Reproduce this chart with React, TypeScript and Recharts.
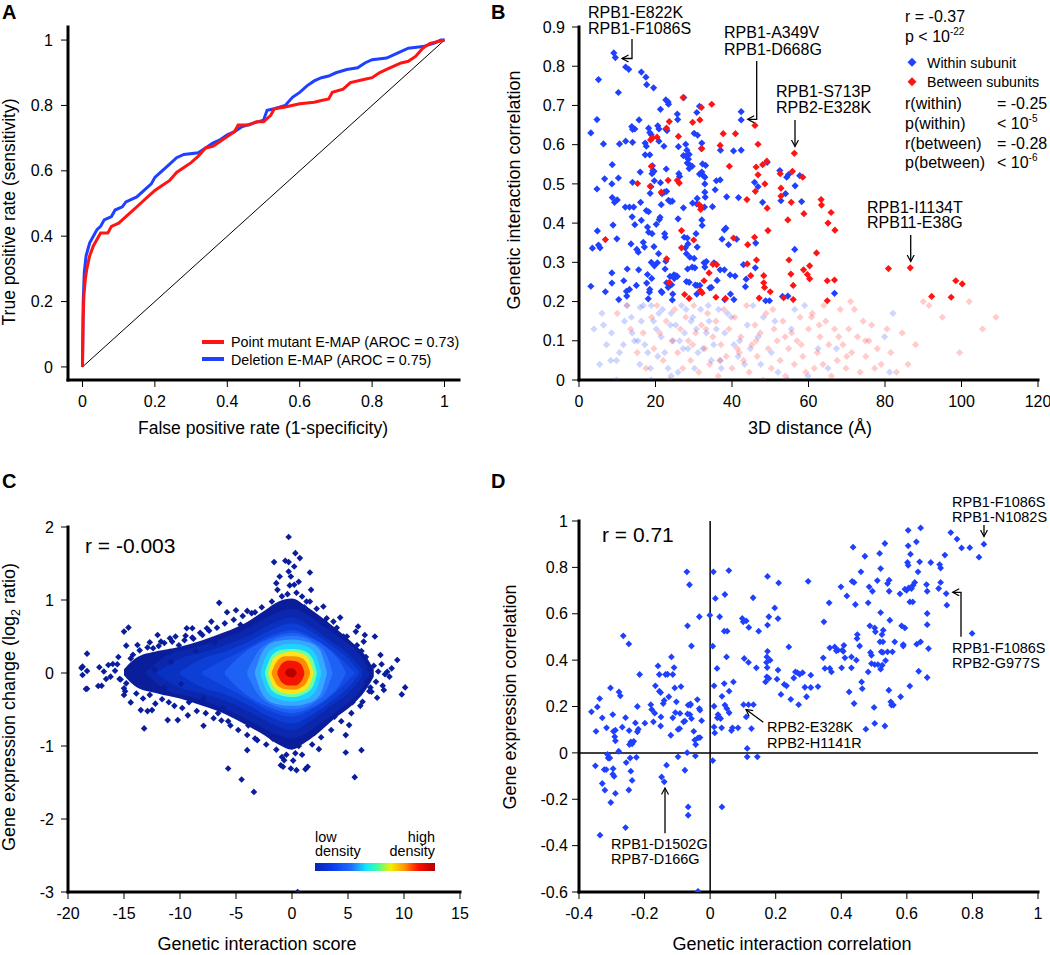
import React from "react";
import { ComposedChart, Line, Scatter, Area, XAxis, YAxis, ReferenceLine } from "recharts";

const FONT = '"Liberation Sans", Arial, Helvetica, sans-serif';
const BLUE = "#1f40ff";
const RED = "#ff1414";
const NAVY = "#0a1e9c";

// ---- panel A: ROC curves (fpr, tpr)
const pointMutantRoc = [
  [0, 0], [0.002, 0.15], [0.004, 0.22], [0.008, 0.27], [0.012, 0.3], [0.02, 0.34], [0.03, 0.37], [0.04, 0.39],
  [0.05, 0.41], [0.07, 0.41], [0.08, 0.43], [0.1, 0.44], [0.12, 0.46], [0.14, 0.48], [0.16, 0.5], [0.18, 0.52],
  [0.2, 0.54], [0.22, 0.555], [0.24, 0.57], [0.26, 0.595], [0.28, 0.61], [0.3, 0.625], [0.32, 0.645], [0.34, 0.67],
  [0.36, 0.675], [0.38, 0.69], [0.4, 0.705], [0.42, 0.72], [0.43, 0.74], [0.46, 0.74], [0.48, 0.75], [0.5, 0.75],
  [0.52, 0.77], [0.53, 0.79], [0.56, 0.795], [0.6, 0.805], [0.64, 0.81], [0.66, 0.815], [0.68, 0.82], [0.69, 0.84],
  [0.72, 0.85], [0.74, 0.87], [0.78, 0.88], [0.8, 0.885], [0.82, 0.9], [0.84, 0.91], [0.86, 0.92], [0.88, 0.93],
  [0.9, 0.935], [0.92, 0.95], [0.94, 0.975], [0.96, 0.99], [0.98, 0.995], [1, 1],
];
const deletionRoc = [
  [0, 0], [0.002, 0.2], [0.005, 0.29], [0.01, 0.34], [0.015, 0.36], [0.02, 0.38], [0.03, 0.4], [0.04, 0.42],
  [0.05, 0.43], [0.06, 0.45], [0.08, 0.46], [0.09, 0.48], [0.11, 0.49], [0.12, 0.505], [0.15, 0.52], [0.17, 0.54],
  [0.19, 0.56], [0.2, 0.58], [0.22, 0.6], [0.24, 0.62], [0.26, 0.64], [0.28, 0.65], [0.32, 0.655], [0.34, 0.67],
  [0.36, 0.685], [0.38, 0.695], [0.4, 0.71], [0.42, 0.72], [0.44, 0.735], [0.47, 0.745], [0.5, 0.755], [0.51, 0.785],
  [0.53, 0.79], [0.56, 0.8], [0.58, 0.825], [0.6, 0.84], [0.62, 0.86], [0.64, 0.875], [0.66, 0.885], [0.68, 0.89],
  [0.7, 0.9], [0.73, 0.91], [0.76, 0.915], [0.78, 0.93], [0.8, 0.94], [0.84, 0.945], [0.87, 0.96], [0.9, 0.975],
  [0.94, 0.98], [0.97, 0.99], [0.99, 1], [1, 1],
];
const diagonal = [[0, 0], [1, 1]];
const rocTicks = [0, 0.2, 0.4, 0.6, 0.8, 1];

// ---- panel B: 3D distance vs genetic interaction correlation
const withinSubunit = [
  [9.1, 0.834], [9.5, 0.822], [12.2, 0.798], [13.0, 0.792], [5.1, 0.766], [16.3, 0.785], [17.5, 0.772], [17.7, 0.753],
  [19.5, 0.745], [10.3, 0.733], [27.4, 0.72], [22.7, 0.714], [23.3, 0.709], [23.4, 0.703], [31.5, 0.698], [21.3, 0.69],
  [30.8, 0.682], [42.4, 0.684], [42.4, 0.663], [4.7, 0.664], [15.7, 0.663], [25.7, 0.678], [25.8, 0.664], [3.1, 0.63],
  [6.4, 0.602], [10.6, 0.602], [13.8, 0.646], [14.0, 0.639], [14.6, 0.64], [14.0, 0.606], [12.2, 0.609], [18.2, 0.642],
  [18.5, 0.631], [18.9, 0.625], [17.3, 0.604], [17.6, 0.596], [17.3, 0.574], [18.5, 0.574], [20.6, 0.648], [20.9, 0.64],
  [22.7, 0.64], [23.0, 0.636], [20.9, 0.609], [22.2, 0.596], [26.0, 0.595], [27.9, 0.601], [28.2, 0.586], [27.9, 0.571],
  [27.3, 0.572], [28.8, 0.575], [28.6, 0.563], [28.3, 0.553], [29.1, 0.547], [28.8, 0.539], [29.6, 0.545], [30.1, 0.629],
  [31.0, 0.624], [32.1, 0.604], [32.0, 0.59], [32.3, 0.551], [33.1, 0.547], [31.5, 0.525], [32.1, 0.53], [32.5, 0.521],
  [32.9, 0.517], [32.9, 0.5], [32.9, 0.479], [33.0, 0.466], [32.8, 0.441], [30.8, 0.449], [29.7, 0.451], [30.9, 0.463],
  [32.1, 0.408], [32.2, 0.394], [37.0, 0.586], [40.4, 0.584], [42.4, 0.586], [35.9, 0.508], [36.9, 0.51], [35.6, 0.485],
  [38.6, 0.467], [41.7, 0.465], [34.9, 0.442], [49.2, 0.555], [45.9, 0.504], [46.8, 0.493], [48.0, 0.453], [52.5, 0.534],
  [54.3, 0.517], [54.8, 0.524], [52.8, 0.457], [54.0, 0.475], [57.7, 0.521], [58.2, 0.455], [56.5, 0.495], [56.4, 0.333],
  [66.8, 0.221], [46.2, 0.349], [37.4, 0.359], [38.0, 0.383], [38.4, 0.387], [41.2, 0.359], [43.0, 0.294], [39.1, 0.345],
  [35.3, 0.299], [36.9, 0.281], [38.0, 0.281], [39.5, 0.268], [40.8, 0.265], [36.1, 0.254], [39.6, 0.219], [40.5, 0.205],
  [38.1, 0.205], [43.5, 0.238], [43.7, 0.257], [46.1, 0.286], [48.8, 0.202], [49.8, 0.202], [53.2, 0.213], [54.6, 0.214],
  [3.5, 0.336], [5.1, 0.344], [5.5, 0.337], [4.8, 0.38], [4.7, 0.487], [6.7, 0.513], [8.6, 0.5], [10.3, 0.515],
  [8.7, 0.549], [8.7, 0.465], [9.3, 0.453], [10.0, 0.459], [8.9, 0.395], [9.9, 0.36], [3.1, 0.239], [6.9, 0.225],
  [8.6, 0.247], [8.6, 0.273], [10.4, 0.205], [11.7, 0.253], [12.6, 0.283], [12.4, 0.226], [12.5, 0.214], [13.2, 0.231],
  [12.1, 0.441], [13.2, 0.441], [13.9, 0.416], [14.6, 0.396], [14.3, 0.441], [13.6, 0.347], [15.1, 0.333], [15.5, 0.326],
  [15.6, 0.281], [15.0, 0.241], [14.0, 0.504], [16.0, 0.53], [16.1, 0.453], [16.3, 0.407], [16.8, 0.351], [17.1, 0.339],
  [17.6, 0.432], [18.2, 0.429], [17.9, 0.39], [18.2, 0.377], [18.6, 0.476], [18.8, 0.493], [19.1, 0.526], [19.3, 0.534],
  [19.6, 0.532], [19.7, 0.508], [19.2, 0.546], [17.9, 0.269], [17.7, 0.247], [19.0, 0.259], [19.1, 0.373], [19.6, 0.34],
  [18.9, 0.3], [19.7, 0.291], [20.5, 0.299], [20.8, 0.322], [20.2, 0.397], [21.0, 0.409], [21.2, 0.415], [21.3, 0.503],
  [21.5, 0.447], [21.7, 0.475], [22.3, 0.479], [21.5, 0.226], [21.7, 0.223], [18.5, 0.231], [18.4, 0.224], [18.1, 0.207],
  [22.4, 0.373], [22.5, 0.364], [22.7, 0.303], [22.5, 0.283], [22.9, 0.248], [23.3, 0.236], [22.8, 0.538], [22.9, 0.481],
  [23.4, 0.458], [23.9, 0.455], [24.4, 0.456], [23.8, 0.264], [24.2, 0.243], [24.5, 0.219], [24.4, 0.204], [24.8, 0.268],
  [24.9, 0.259], [25.3, 0.266], [25.7, 0.264], [25.9, 0.411], [26.1, 0.526], [26.3, 0.519], [27.3, 0.439], [27.5, 0.364],
  [27.8, 0.337], [28.1, 0.322], [28.3, 0.362], [28.5, 0.347], [28.4, 0.283], [28.1, 0.251], [28.8, 0.249], [29.0, 0.313],
  [29.6, 0.288], [30.1, 0.31], [30.4, 0.242], [30.9, 0.241], [30.3, 0.286], [30.9, 0.339], [30.6, 0.373], [30.8, 0.219],
  [31.6, 0.241], [32.7, 0.299], [32.9, 0.288], [33.3, 0.302], [34.2, 0.235], [34.6, 0.236],
];
const betweenSubunits = [
  [27.2, 0.72], [32.0, 0.695], [34.7, 0.703], [23.6, 0.659], [29.7, 0.657], [31.6, 0.663], [26.0, 0.621], [22.9, 0.642],
  [18.7, 0.612], [19.2, 0.617], [20.4, 0.619], [32.1, 0.59], [37.7, 0.628], [40.9, 0.628], [36.9, 0.598], [46.0, 0.649],
  [46.8, 0.601], [39.3, 0.545], [46.3, 0.543], [49.1, 0.558], [48.0, 0.549], [46.8, 0.523], [48.6, 0.5], [46.1, 0.481],
  [43.9, 0.46], [49.2, 0.438], [18.9, 0.545], [15.3, 0.501], [18.6, 0.494], [21.5, 0.479], [23.3, 0.509], [25.7, 0.509],
  [26.2, 0.502], [31.4, 0.447], [31.9, 0.442], [31.8, 0.435], [40.4, 0.362], [26.8, 0.381], [26.8, 0.337], [30.0, 0.357],
  [22.9, 0.309], [45.9, 0.364], [44.1, 0.345], [46.4, 0.306], [49.4, 0.381], [44.9, 0.266], [48.3, 0.266], [48.3, 0.248],
  [48.5, 0.236], [50.0, 0.225], [47.1, 0.209], [44.0, 0.296], [35.0, 0.295], [36.0, 0.294], [34.0, 0.273], [32.7, 0.253],
  [31.7, 0.228], [32.2, 0.222], [27.6, 0.218], [28.8, 0.208], [23.6, 0.249], [35.8, 0.211], [38.3, 0.208], [52.6, 0.526],
  [55.8, 0.532], [58.5, 0.517], [52.8, 0.489], [52.8, 0.469], [55.5, 0.453], [58.8, 0.424], [54.6, 0.408], [56.3, 0.578],
  [63.3, 0.46], [63.4, 0.446], [65.9, 0.427], [65.1, 0.4], [66.9, 0.382], [62.1, 0.324], [54.9, 0.306], [55.4, 0.27],
  [56.0, 0.241], [56.0, 0.205], [53.5, 0.21], [58.7, 0.281], [59.7, 0.269], [60.3, 0.291], [60.3, 0.258], [64.9, 0.253],
  [66.8, 0.255], [64.9, 0.202], [80.9, 0.284], [86.6, 0.286], [92.2, 0.213], [97.3, 0.211], [98.5, 0.253], [100.2, 0.245],
  [6.9, 0.358],
];
const withinFaded = [
  [3.9, 0.13], [5.4, 0.04], [6.0, 0.17], [6.4, 0.14], [8.3, 0.05], [8.5, 0.12], [9.8, 0.05], [10.6, 0.07], [11.6, 0.09],
  [11.9, 0.15], [12.5, 0.19], [13.7, 0.16], [13.9, 0.12], [14.5, 0.1], [15.4, 0.1], [16.3, 0.15], [16.8, 0.19], [17.2, 0.09],
  [18.0, 0.07], [18.7, 0.03], [18.9, 0.19], [19.5, 0.15], [20.2, 0.13], [20.6, 0.06], [21.5, 0.11], [21.8, 0.18], [22.4, 0.07],
  [23.3, 0.03], [24.1, 0.17], [24.6, 0.1], [25.3, 0.14], [25.9, 0.02], [26.8, 0.19], [27.2, 0.08], [27.6, 0.12], [28.5, 0.08],
  [29.3, 0.15], [29.8, 0.16], [30.7, 0.13], [31.1, 0.07], [31.8, 0.18], [32.4, 0.08], [33.3, 0.12], [34.0, 0.15], [34.6, 0.05],
  [35.9, 0.13], [36.5, 0.18], [37.2, 0.03], [38.1, 0.12], [39.8, 0.16], [40.5, 0.09], [41.6, 0.06], [43.3, 0.04], [44.0, 0.14],
  [45.5, 0.19], [46.8, 0.11], [48.2, 0.16], [50.3, 0.07], [52.0, 0.02], [54.6, 0.0], [55.5, 0.13], [56.4, 0.18], [59.0, 0.19],
  [59.9, 0.01], [62.5, 0.08], [65.1, 0.03], [67.3, 0.08], [79.9, 0.11], [81.2, 0.02], [82.1, 0.17], [9.8, 0.0], [18.9, 0.0],
  [24.1, 0.01], [37.0, 0.05], [42.0, 0.1], [7.2, 0.09], [15.9, 0.04], [20.9, 0.17], [23.9, 0.14], [26.3, 0.1], [30.2, 0.03],
  [33.8, 0.19], [35.2, 0.09], [38.8, 0.17], [44.8, 0.08], [47.5, 0.04], [51.2, 0.15], [16.0, 0.185], [28.0, 0.18],
];
const betweenFaded = [
  [10.0, 0.17], [12.6, 0.19], [13.5, 0.13], [15.2, 0.07], [16.8, 0.12], [17.5, 0.03], [19.0, 0.16], [19.6, 0.08], [20.4, 0.19],
  [21.1, 0.12], [22.0, 0.05], [22.8, 0.15], [23.6, 0.0], [24.3, 0.1], [25.0, 0.18], [25.8, 0.07], [26.5, 0.13], [27.1, 0.03],
  [27.9, 0.16], [28.6, 0.1], [29.2, 0.05], [30.0, 0.19], [30.5, 0.12], [31.3, 0.02], [32.0, 0.14], [32.9, 0.08], [33.6, 0.17],
  [34.2, 0.04], [35.0, 0.11], [35.8, 0.15], [36.4, 0.01], [37.1, 0.09], [37.9, 0.18], [38.5, 0.06], [39.2, 0.13], [40.0, 0.03],
  [40.7, 0.16], [41.4, 0.08], [42.3, 0.11], [43.0, 0.05], [43.8, 0.19], [44.5, 0.02], [45.2, 0.09], [46.0, 0.14], [46.6, 0.06],
  [47.4, 0.12], [48.1, 0.0], [48.9, 0.17], [49.5, 0.08], [50.3, 0.03], [51.0, 0.13], [51.8, 0.1], [52.6, 0.05], [53.3, 0.15],
  [54.0, 0.01], [54.8, 0.08], [55.6, 0.12], [56.3, 0.04], [57.0, 0.1], [57.8, 0.16], [58.5, 0.06], [59.3, 0.02], [60.0, 0.13],
  [60.8, 0.16], [61.5, 0.03], [62.3, 0.07], [63.0, 0.11], [63.8, 0.04], [64.5, 0.15], [65.3, 0.09], [66.0, 0.01], [66.8, 0.13],
  [67.5, 0.05], [68.3, 0.18], [69.0, 0.09], [69.8, 0.03], [70.5, 0.13], [71.3, 0.07], [72.0, 0.18], [72.8, 0.11], [73.5, 0.02],
  [74.3, 0.15], [75.0, 0.06], [75.8, 0.1], [76.5, 0.14], [77.3, 0.03], [78.0, 0.08], [79.0, 0.04], [80.5, 0.13], [81.5, 0.07],
  [83.0, 0.02], [84.5, 0.12], [86.0, 0.04], [88.0, 0.09], [90.0, 0.2], [91.5, 0.19], [95.0, 0.16], [99.5, 0.07], [102.0, 0.2],
  [105.5, 0.13], [109.0, 0.16], [61.0, 0.17], [64.0, 0.19], [71.0, 0.2], [41.9, 0.07], [46.3, 0.1], [50.7, 0.18], [53.9, 0.11],
  [58.1, 0.09], [62.8, 0.14], [67.9, 0.11], [70.0, 0.06], [74.9, 0.1], [29.7, 0.09], [33.2, 0.13], [36.8, 0.05],
];
const distTicks = [0, 20, 40, 60, 80, 100, 120];
const corrTicksB = [0, 0.1, 0.2, 0.3, 0.4, 0.5, 0.6, 0.7, 0.8, 0.9];

// ---- panel C: genetic interaction score vs expression change
const scoreOutliers = [
  [-18.7, 0.087], [-18.7, -0.027], [-18.3, 0.265], [-18.3, 0.027], [-18.3, -0.215], [-18.8, 0.07], [-18.4, -0.22],
  [-17.2, 0.078], [-17.3, -0.178], [-17.0, -0.174], [-16.6, -0.082], [-16.4, 0.11], [-16.0, 0.124], [-15.6, 0.119],
  [-15.4, -0.082], [-15.3, -0.09], [-15.0, -0.21], [-15.0, 0.567], [-14.6, 0.622], [-14.8, 0.375], [-15.0, -0.302],
  [-14.8, -0.142], [-14.4, -0.403], [-14.4, 0.2], [-13.8, 0.384], [-13.5, -0.508], [-13.2, -0.759], [-12.9, -0.522],
  [-12.5, -0.508], [-12.0, 0.521], [-11.7, 0.43], [-11.8, 0.26], [-11.1, -0.645], [-10.9, 0.476], [-10.2, -0.645],
  [-9.4, 0.613], [-8.9, 0.485], [-8.9, 0.613], [-8.0, 0.521], [-7.9, -0.723], [-7.6, 0.613], [-7.2, 0.704], [-6.5, 0.961],
  [-5.8, 0.833], [-5.0, 0.86], [-5.7, -1.308], [-4.5, -1.459], [-4.0, 0.851], [-4.0, -1.057], [-3.3, 0.833], [-3.4, -1.629],
  [-3.3, -0.897], [-2.0, 0.842], [-1.6, 1.519], [-1.4, 1.231], [-1.3, 1.139], [-1.1, 1.322], [-1.0, -1.263], [-0.8, -1.285],
  [-0.7, -1.194], [-0.6, 1.537], [-0.3, 1.862], [-0.3, 1.519], [-0.3, 1.391], [-0.1, 1.322], [-0.1, -1.308], [0.3, 1.642],
  [0.2, 1.459], [0.2, 1.208], [0.7, 1.574], [0.4, -1.331], [0.9, 1.048], [1.2, -1.317], [1.6, 1.377], [1.7, 1.139],
  [1.6, 0.979], [1.4, -1.285], [2.4, -1.043], [2.8, 0.91], [3.7, 0.704], [4.3, 0.759], [4.8, -1.089], [4.8, -0.851],
  [5.1, -0.714], [5.6, -1.427], [5.7, 0.567], [5.9, 0.636], [6.2, -1.057], [6.3, -0.393], [6.5, 0.521], [6.4, 0.43],
  [6.7, -0.119], [6.9, 0.064], [7.1, -0.256], [7.4, 0.499], [7.6, -0.339], [7.9, 0.247], [8.0, 0.119], [8.1, -0.174],
  [8.2, -0.233], [8.3, -0.018], [8.5, 0.018], [8.7, -0.05], [8.9, 0.064], [9.4, 0.178], [9.8, -0.293], [10.1, -0.197],
  [0.5, -3.0], [-6.6, -0.55], [-5.7, -0.66], [-9.3, -0.58], [-9.5, 0.51], [-10.4, 0.5], [-10.9, 0.29], [-12.7, 0.42],
  [-14.2, 0.25], [-13.9, -0.28], [-13.6, 0.31], [-13.3, -0.35], [-13.0, 0.22], [-12.7, -0.3], [-12.4, 0.34], [-12.2, -0.42],
  [-11.9, 0.37], [-11.6, -0.36], [-11.4, 0.41], [-11.0, -0.4], [-10.7, 0.43], [-10.5, -0.45], [-10.1, 0.38], [-9.8, -0.48],
  [-9.6, 0.45], [-9.2, -0.4], [-8.8, 0.47], [-8.5, -0.52], [-8.2, 0.55], [-7.7, -0.55], [-7.4, 0.58], [-7.0, -0.62],
  [-6.7, 0.62], [-6.3, -0.65], [-6.0, 0.68], [-5.5, -0.72], [-5.2, 0.73], [-4.8, -0.78], [-4.4, 0.78], [-4.0, -0.85],
  [-3.6, 0.82], [-3.1, -0.92], [-2.7, 0.9], [-2.3, -0.98], [-1.8, 0.98], [-1.4, -1.05], [-0.9, 1.05], [-0.5, -1.12],
  [0.4, 1.1], [0.9, -1.12], [1.3, 0.98], [1.8, -0.98], [2.2, 0.88], [2.6, -0.88], [3.1, 0.75], [3.5, -0.78], [4.0, 0.62],
  [4.4, -0.66], [4.9, 0.5], [5.3, -0.55], [5.8, 0.38], [6.1, -0.45], [6.6, 0.22], [6.9, -0.25], [7.3, 0.1], [7.5, -0.12],
  [-16.8, 0.02], [-16.2, -0.05], [-15.8, 0.03], [-15.5, 0.22], [-14.9, -0.25], [-13.6, 0.02], [-12.9, 0.35], [-12.3, 0.05],
  [-11.4, -0.2], [-10.8, 0.15], [-9.9, -0.15], [-8.6, 0.3], [-7.9, -0.35], [-6.9, 0.42], [-6.2, -0.48], [-4.6, 0.66],
  [-3.9, -0.72], [-2.4, 0.8], [-1.7, -0.9], [-0.8, 0.95], [0.6, -1.0], [1.1, 0.9], [2.0, -0.82], [2.9, 0.7], [3.8, -0.6],
  [4.6, 0.5], [5.4, -0.4], [6.2, 0.3], [7.0, -0.2], [7.7, 0.02], [-0.2, 1.2], [0.1, -1.2], [-0.4, 1.08], [0.6, 1.25],
  [-0.9, -1.15], [0.3, -1.1],
];
// density levels, outer to inner: [x, low, high]
const densityLevels = [
  { color: NAVY, band: [[-15.0, -0.03, 0.05], [-14.0, -0.18, 0.2], [-12.0, -0.28, 0.3], [-10.0, -0.35, 0.36], [-8.0, -0.45, 0.45], [-6.0, -0.56, 0.56], [-4.0, -0.72, 0.7], [-2.5, -0.85, 0.85], [-1.2, -0.98, 0.98], [0.0, -1.05, 1.02], [1.2, -0.95, 0.92], [2.5, -0.8, 0.78], [4.0, -0.6, 0.6], [5.5, -0.42, 0.4], [6.5, -0.25, 0.25], [7.3, -0.05, 0.05]] },
  { color: "#0a27ad", band: [[-13.0, -0.02, 0.02], [-11.0, -0.25, 0.26], [-9.0, -0.33, 0.34], [-7.0, -0.43, 0.43], [-5.0, -0.56, 0.54], [-3.0, -0.72, 0.7], [-1.5, -0.84, 0.82], [0.0, -0.9, 0.88], [1.5, -0.8, 0.78], [3.0, -0.64, 0.62], [4.5, -0.47, 0.46], [5.8, -0.3, 0.3], [6.9, -0.03, 0.03]] },
  { color: "#0a32c2", band: [[-12.0, -0.02, 0.02], [-10.0, -0.2, 0.2], [-8.0, -0.28, 0.28], [-6.0, -0.38, 0.38], [-4.0, -0.52, 0.5], [-2.0, -0.68, 0.66], [0.0, -0.78, 0.76], [2.0, -0.62, 0.6], [3.5, -0.45, 0.44], [5.0, -0.28, 0.27], [6.3, -0.05, 0.05]] },
  { color: "#0d3fd6", band: [[-10.0, -0.02, 0.02], [-8.0, -0.2, 0.2], [-6.0, -0.29, 0.29], [-4.0, -0.43, 0.42], [-2.0, -0.6, 0.58], [0.0, -0.69, 0.68], [2.0, -0.55, 0.54], [3.5, -0.39, 0.38], [5.0, -0.2, 0.2], [6.0, -0.02, 0.02]] },
  { color: "#134ce6", band: [[-8.0, -0.02, 0.02], [-6.0, -0.19, 0.19], [-4.0, -0.35, 0.34], [-2.0, -0.52, 0.51], [0.0, -0.6, 0.59], [2.0, -0.48, 0.47], [3.5, -0.32, 0.31], [5.0, -0.1, 0.1], [5.6, -0.01, 0.01]] },
  { color: "#1d62f5", band: [[-6.0, -0.02, 0.02], [-4.5, -0.25, 0.25], [-3.0, -0.4, 0.4], [-1.5, -0.5, 0.5], [0.0, -0.55, 0.55], [1.5, -0.49, 0.49], [3.0, -0.36, 0.36], [4.3, -0.15, 0.15], [4.8, -0.01, 0.01]] },
  { color: "#2a7aff", band: [[-4.0, -0.02, 0.02], [-3.0, -0.3, 0.3], [-2.0, -0.42, 0.42], [-1.0, -0.48, 0.49], [0.0, -0.5, 0.51], [1.0, -0.48, 0.49], [2.0, -0.4, 0.41], [3.0, -0.26, 0.27], [3.6, -0.02, 0.02]] },
  { color: "#35a8ff", band: [[-3.3, -0.02, 0.02], [-2.6, -0.3, 0.3], [-1.5, -0.42, 0.43], [0.0, -0.45, 0.46], [1.5, -0.41, 0.42], [2.5, -0.3, 0.31], [3.1, -0.02, 0.02]] },
  { color: "#1cd4ff", band: [[-2.8, -0.02, 0.02], [-2.2, -0.26, 0.26], [-1.2, -0.36, 0.37], [0.0, -0.39, 0.4], [1.2, -0.36, 0.37], [2.1, -0.25, 0.26], [2.6, -0.02, 0.02]] },
  { color: "#6dffa0", band: [[-2.4, -0.02, 0.02], [-1.8, -0.24, 0.24], [-0.9, -0.31, 0.32], [0.0, -0.33, 0.33], [0.9, -0.3, 0.31], [1.8, -0.2, 0.21], [2.2, -0.02, 0.02]] },
  { color: "#ffe41a", band: [[-2.1, -0.02, 0.02], [-1.6, -0.2, 0.21], [-0.8, -0.27, 0.27], [0.0, -0.29, 0.29], [0.8, -0.26, 0.27], [1.5, -0.18, 0.19], [1.9, -0.02, 0.02]] },
  { color: "#ff8c00", band: [[-1.8, -0.02, 0.02], [-1.3, -0.17, 0.17], [-0.6, -0.22, 0.23], [0.1, -0.23, 0.23], [0.8, -0.2, 0.21], [1.3, -0.13, 0.14], [1.6, -0.02, 0.02]] },
  { color: "#f51400", band: [[-1.3, -0.02, 0.02], [-0.9, -0.13, 0.13], [-0.3, -0.17, 0.17], [0.3, -0.17, 0.16], [0.8, -0.12, 0.12], [1.1, -0.02, 0.02]] },
  { color: "#b80000", band: [[-0.6, -0.01, 0.01], [-0.3, -0.05, 0.06], [0.1, -0.06, 0.06], [0.4, -0.01, 0.01]] },
];
const scoreTicks = [-20, -15, -10, -5, 0, 5, 10, 15];
const exprTicks = [-3, -2, -1, 0, 1, 2];

// ---- panel D: genetic interaction correlation vs expression correlation
const corrPairs = [
  [-0.362, 0.177], [-0.344, 0.198], [-0.337, 0.234], [-0.329, 0.151], [-0.348, 0.093], [-0.316, 0.108], [-0.304, 0.28],
  [-0.297, 0.165], [-0.295, 0.093], [-0.289, 0.098], [-0.291, 0.07], [-0.289, 0.052], [-0.279, 0.007], [-0.278, 0.263],
  [-0.274, 0.246], [-0.268, 0.111], [-0.265, 0.505], [-0.258, 0.152], [-0.248, 0.47], [-0.247, 0.096], [-0.246, 0.036],
  [-0.242, 0.047], [-0.238, 0.039], [-0.233, 0.05], [-0.228, 0.129], [-0.222, 0.091], [-0.219, 0.102], [-0.215, 0.338],
  [-0.222, 0.2], [-0.225, -0.019], [-0.35, -0.056], [-0.329, -0.132], [-0.323, -0.072], [-0.317, -0.072], [-0.321, -0.161],
  [-0.313, -0.007], [-0.311, -0.022], [-0.306, -0.022], [-0.303, -0.214], [-0.296, -0.068], [-0.297, -0.092], [-0.293, -0.101],
  [-0.289, -0.175], [-0.336, -0.355], [-0.258, -0.322], [-0.256, -0.042], [-0.248, -0.16], [-0.244, -0.022], [-0.242, -0.079],
  [-0.238, -0.119], [-0.199, 0.128], [-0.181, 0.208], [-0.178, 0.187], [-0.173, 0.134], [-0.169, 0.171], [-0.167, 0.289],
  [-0.159, 0.375], [-0.155, 0.338], [-0.155, 0.266], [-0.151, 0.26], [-0.15, 0.155], [-0.151, 0.116], [-0.143, 0.213],
  [-0.14, 0.226], [-0.136, 0.338], [-0.13, 0.339], [-0.126, 0.242], [-0.12, 0.076], [-0.118, 0.414], [-0.114, 0.338],
  [-0.114, 0.151], [-0.11, 0.368], [-0.108, 0.28], [-0.106, 0.174], [-0.103, 0.22], [-0.098, 0.101], [-0.093, 0.105],
  [-0.092, 0.17], [-0.089, 0.286], [-0.081, 0.134], [-0.077, 0.137], [-0.069, 0.168], [-0.067, 0.206], [-0.06, 0.206],
  [-0.062, 0.165], [-0.06, 0.211], [-0.057, 0.148], [-0.05, 0.093], [-0.044, 0.036], [-0.047, 0.055], [-0.039, 0.23],
  [-0.033, 0.191], [-0.031, 0.184], [-0.037, 0.065], [-0.031, 0.066], [-0.026, 0.139], [-0.071, 0.781], [-0.063, 0.725],
  [-0.069, 0.548], [-0.057, 0.461], [-0.033, 0.587], [-0.07, 0.001], [-0.098, -0.017], [-0.077, -0.075], [-0.045, -0.013],
  [-0.067, -0.233], [-0.067, -0.269], [-0.148, -0.104], [-0.14, -0.125], [-0.133, -0.053], [-0.037, -0.597], [-0.001, 0.594],
  [0.01, 0.781], [0.016, 0.666], [0.057, 0.786], [0.045, 0.683], [0.029, 0.587], [0.008, 0.46], [0.012, 0.289], [0.021, 0.364],
  [0.043, 0.525], [0.052, 0.525], [0.05, 0.414], [0.043, 0.299], [0.036, 0.244], [0.058, 0.266], [0.071, 0.306], [0.012, 0.201],
  [0.024, 0.165], [0.027, 0.155], [0.032, 0.148], [0.022, 0.151], [0.045, 0.206], [0.051, 0.191], [0.058, 0.173], [0.012, 0.112],
  [0.014, 0.086], [0.035, 0.108], [0.065, 0.096], [0.068, 0.108], [0.085, 0.108], [0.008, -0.033], [0.036, -0.233], [0.101, 0.565],
  [0.098, 0.58], [0.11, 0.569], [0.118, 0.541], [0.131, 0.669], [0.148, 0.525], [0.104, 0.407], [0.117, 0.39], [0.141, 0.367],
  [0.102, 0.208], [0.117, 0.208], [0.132, 0.208], [0.11, 0.155], [0.126, 0.105], [0.113, 0.019], [0.113, -0.017], [0.144, -0.017],
  [0.175, 0.761], [0.209, 0.733], [0.197, 0.625], [0.179, 0.587], [0.207, 0.579], [0.175, 0.551], [0.175, 0.438], [0.173, 0.414],
  [0.183, 0.4], [0.172, 0.39], [0.174, 0.368], [0.173, 0.328], [0.179, 0.321], [0.169, 0.306], [0.207, 0.357], [0.204, 0.318],
  [0.216, 0.252], [0.226, 0.295], [0.233, 0.289], [0.24, 0.457], [0.246, 0.231], [0.255, 0.323], [0.26, 0.349], [0.266, 0.346],
  [0.273, 0.339], [0.27, 0.208], [0.282, 0.346], [0.289, 0.283], [0.294, 0.242], [0.299, 0.74], [0.307, 0.335], [0.307, 0.282],
  [0.329, 0.286], [0.347, 0.565], [0.345, 0.41], [0.35, 0.364], [0.363, 0.647], [0.365, 0.453], [0.365, 0.364], [0.37, 0.349],
  [0.38, 0.457], [0.385, 0.44], [0.39, 0.443], [0.399, 0.716], [0.401, 0.367], [0.403, 0.443], [0.408, 0.464], [0.411, 0.41],
  [0.417, 0.677], [0.424, 0.263], [0.431, 0.414], [0.431, 0.367], [0.406, 0.438], [0.436, 0.887], [0.433, 0.74], [0.439, 0.735],
  [0.443, 0.64], [0.439, 0.213], [0.446, 0.4], [0.449, 0.51], [0.448, 0.493], [0.456, 0.461], [0.46, 0.781], [0.462, 0.306],
  [0.464, 0.277], [0.472, 0.848], [0.475, 0.102], [0.482, 0.647], [0.482, 0.349], [0.485, 0.716], [0.487, 0.548], [0.489, 0.433],
  [0.492, 0.421], [0.492, 0.385], [0.495, 0.697], [0.5, 0.196], [0.502, 0.127], [0.502, 0.539], [0.504, 0.522], [0.502, 0.381],
  [0.51, 0.743], [0.512, 0.381], [0.517, 0.86], [0.52, 0.795], [0.52, 0.605], [0.518, 0.479], [0.527, 0.479], [0.524, 0.51],
  [0.522, 0.436], [0.527, 0.433], [0.52, 0.361], [0.525, 0.378], [0.533, 0.903], [0.533, 0.116], [0.528, 0.529], [0.535, 0.398],
  [0.541, 0.73], [0.546, 0.745], [0.546, 0.697], [0.541, 0.436], [0.548, 0.572], [0.545, 0.27], [0.551, 0.22], [0.556, 0.436],
  [0.553, 0.206], [0.559, 0.206], [0.563, 0.479], [0.579, 0.686], [0.581, 0.242], [0.584, 0.548], [0.589, 0.467], [0.589, 0.461],
  [0.594, 0.539], [0.594, 0.706], [0.599, 0.701], [0.604, 0.96], [0.604, 0.893], [0.602, 0.821], [0.604, 0.809], [0.606, 0.712],
  [0.609, 0.651], [0.609, 0.288], [0.611, 0.857], [0.614, 0.709], [0.618, 0.651], [0.619, 0.723], [0.624, 0.735], [0.629, 0.91],
  [0.63, 0.469], [0.634, 0.781], [0.636, 0.352], [0.639, 0.824], [0.642, 0.97], [0.642, 0.479], [0.66, 0.726], [0.662, 0.697],
  [0.662, 0.553], [0.662, 0.601], [0.662, 0.325], [0.666, 0.45], [0.673, 0.821], [0.697, 0.709], [0.7, 0.812], [0.703, 0.797],
  [0.703, 0.735], [0.716, 0.853], [0.72, 0.687], [0.722, 0.637], [0.734, 0.95], [0.753, 0.922], [0.767, 0.884], [0.792, 0.885],
  [0.799, 0.515], [0.82, 0.844], [0.835, 0.9],
];
const giCorrTicks = [-0.4, -0.2, 0, 0.2, 0.4, 0.6, 0.8, 1];
const exCorrTicks = [-0.6, -0.4, -0.2, 0, 0.2, 0.4, 0.6, 0.8, 1];

const pts = (arr: number[][]) => arr.map(([x, y]) => ({ x, y }));
const bands = (arr: number[][]) => arr.map(([x, lo, hi]) => ({ x, band: [lo, hi] }));

const diamond = (fill: string, r: number, opacity = 1) => (p: any) => {
  const { cx, cy } = p;
  if (typeof cx !== "number" || typeof cy !== "number") return <g />;
  return (
    <path
      d={`M${cx} ${cy - r}L${cx + r} ${cy}L${cx} ${cy + r}L${cx - r} ${cy}Z`}
      fill={fill}
      fillOpacity={opacity}
    />
  );
};

const tickStyle = { fill: "#000", fontSize: 16, fontFamily: FONT };
const axisLine = { stroke: "#000", strokeWidth: 3, strokeLinecap: "square" as const };
const tickLine = { stroke: "#000", strokeWidth: 1 };
const xAxisBase = {
  type: "number" as const,
  dataKey: "x",
  allowDataOverflow: true,
  interval: 0 as const,
  height: 30,
  tickSize: 7,
  tickMargin: 9,
  axisLine,
  tickLine,
  tick: tickStyle,
};
const yAxisBase = {
  type: "number" as const,
  allowDataOverflow: true,
  interval: 0 as const,
  tickSize: 7,
  axisLine,
  tickLine,
  tick: tickStyle,
};

const txt = { fontFamily: FONT, fill: "#000" };

const Overlay = () => (
  <svg width={1050} height={955} style={{ position: "absolute", left: 0, top: 0, pointerEvents: "none" }}>
    <defs>
      <marker id="ah" markerWidth={10} markerHeight={10} refX={7} refY={4} orient="auto" markerUnits="userSpaceOnUse">
        <path d="M0.5,0.5 L7,4 L0.5,7.5" fill="none" stroke="#000" strokeWidth={1.2} />
      </marker>
      <linearGradient id="jet" x1="0" x2="1" y1="0" y2="0">
        <stop offset="0" stopColor="#0a22b0" />
        <stop offset="0.15" stopColor="#0a3cf0" />
        <stop offset="0.3" stopColor="#1f6dff" />
        <stop offset="0.43" stopColor="#10e8ff" />
        <stop offset="0.52" stopColor="#40ff9c" />
        <stop offset="0.63" stopColor="#f0f000" />
        <stop offset="0.74" stopColor="#ff9a00" />
        <stop offset="0.86" stopColor="#ff1000" />
        <stop offset="1" stopColor="#b00000" />
      </linearGradient>
    </defs>

    {/* panel letters */}
    <g {...txt} fontSize={20} fontWeight="bold">
      <text x={2} y={19}>A</text>
      <text x={491} y={19}>B</text>
      <text x={2} y={488}>C</text>
      <text x={491} y={488}>D</text>
    </g>

    {/* axis titles */}
    <g {...txt} fontSize={17.5} textAnchor="middle">
      <text x={263} y={434}>False positive rate (1-specificity)</text>
      <text transform="translate(14.5,212) rotate(-90)">True positive rate (sensitivity)</text>
    </g>
    <g {...txt} fontSize={18} textAnchor="middle">
      <text x={810} y={434}>3D distance (Å)</text>
      <text transform="translate(520,190) rotate(-90)">Genetic interaction correlation</text>
      <text x={257} y={950}>Genetic interaction score</text>
      <text transform="translate(14.5,707) rotate(-90)">
        Gene expression change (log
        <tspan fontSize={12.5} dy={5}>2</tspan>
        <tspan dy={-5}> ratio)</tspan>
      </text>
      <text x={792} y={950}>Genetic interaction correlation</text>
      <text transform="translate(515.5,697) rotate(-90)">Gene expression correlation</text>
    </g>

    {/* A legend */}
    <line x1={202} y1={342} x2={224} y2={342} stroke={RED} strokeWidth={4} />
    <line x1={202} y1={359} x2={224} y2={359} stroke={BLUE} strokeWidth={4} />
    <g {...txt} fontSize={14.3}>
      <text x={231} y={347}>Point mutant E-MAP (AROC = 0.73)</text>
      <text x={231} y={365}>Deletion E-MAP (AROC = 0.75)</text>
    </g>

    {/* B annotations */}
    <g {...txt} fontSize={16}>
      <text x={588} y={18.3}>RPB1-E822K</text>
      <text x={588} y={33.5}>RPB1-F1086S</text>
      <text x={724} y={38.3}>RPB1-A349V</text>
      <text x={724} y={55}>RPB1-D668G</text>
      <text x={776} y={96.7}>RPB1-S713P</text>
      <text x={776} y={113.3}>RPB2-E328K</text>
      <text x={867} y={213.3}>RPB1-I1134T</text>
      <text x={867} y={228.3}>RPB11-E38G</text>
      <text x={905} y={21.7}>r = -0.37</text>
      <text x={905} y={41.7}>
        p &lt; 10<tspan fontSize={10} dy={-7}>-22</tspan>
      </text>
      <text x={905} y={109}>r(within)</text>
      <text x={997} y={109}>= -0.25</text>
      <text x={905} y={128.5}>p(within)</text>
      <text x={997} y={128.5}>
        &lt; 10<tspan fontSize={10} dy={-7}>-5</tspan>
      </text>
      <text x={905} y={148.5}>r(between)</text>
      <text x={997} y={148.5}>= -0.28</text>
      <text x={905} y={168}>p(between)</text>
      <text x={997} y={168}>
        &lt; 10<tspan fontSize={10} dy={-7}>-6</tspan>
      </text>
    </g>
    <g {...txt} fontSize={14.2}>
      <text x={927} y={67.5}>Within subunit</text>
      <text x={927} y={86.8}>Between subunits</text>
    </g>
    <path d="M912 57.8L916.5 62.3L912 66.8L907.5 62.3Z" fill={BLUE} />
    <path d="M912 77.2L916.5 81.7L912 86.2L907.5 81.7Z" fill={RED} />
    <g fill="none" stroke="#000" strokeWidth={1.3}>
      <polyline points="632,39 632,58.5 622,58.5" markerEnd="url(#ah)" />
      <polyline points="756.7,61 756.7,119.3 747.7,119.3" markerEnd="url(#ah)" />
      <line x1={795} y1={120} x2={795} y2={146.5} markerEnd="url(#ah)" />
      <line x1={910.7} y1={235} x2={910.7} y2={261.5} markerEnd="url(#ah)" />
    </g>

    {/* C extras */}
    <text {...txt} x={85} y={553.3} fontSize={21}>r = -0.003</text>
    <g {...txt} fontSize={14.4}>
      <text x={315} y={841.7}>low</text>
      <text x={315} y={856}>density</text>
      <text x={435} y={841.7} textAnchor="end">high</text>
      <text x={435} y={856} textAnchor="end">density</text>
    </g>
    <rect x={315} y={863} width={120} height={8} fill="url(#jet)" />

    {/* D extras */}
    <text {...txt} x={602} y={541.7} fontSize={21}>r = 0.71</text>
    <g {...txt} fontSize={14.5}>
      <text x={952} y={506.7}>RPB1-F1086S</text>
      <text x={952} y={521.7}>RPB1-N1082S</text>
      <text x={952} y={653.3}>RPB1-F1086S</text>
      <text x={952} y={668.3}>RPB2-G977S</text>
      <text x={767} y={732.3}>RPB2-E328K</text>
      <text x={767} y={747.7}>RPB2-H1141R</text>
      <text x={611} y={849}>RPB1-D1502G</text>
      <text x={611} y={864.3}>RPB7-D166G</text>
    </g>
    <g fill="none" stroke="#000" strokeWidth={1.3}>
      <line x1={984} y1={525} x2={984} y2={536.5} markerEnd="url(#ah)" />
      <polyline points="961,636.7 961,592.3 952.7,592.3" markerEnd="url(#ah)" />
      <line x1={763.3} y1={722.3} x2={746} y2={709.5} markerEnd="url(#ah)" />
      <line x1={665} y1={833.3} x2={665} y2={788} markerEnd="url(#ah)" />
    </g>
  </svg>
);

export default function App() {
  return (
    <div style={{ position: "absolute", left: 0, top: 0, width: 1050, height: 955, background: "#fff" }}>
      {/* A */}
      <div style={{ position: "absolute", left: 0, top: 0 }}>
        <ComposedChart width={525} height={475} margin={{ top: 27, right: 66, bottom: 65, left: 0 }}>
          <XAxis {...xAxisBase} domain={[-0.04, 1.04]} ticks={rocTicks} />
          <YAxis {...yAxisBase} domain={[-0.04, 1.04]} ticks={rocTicks} width={68} tickMargin={8} />
          <Line data={pts(diagonal)} dataKey="y" stroke="#000" strokeWidth={1} dot={false} isAnimationActive={false} />
          <Line data={pts(deletionRoc)} dataKey="y" stroke={BLUE} strokeWidth={3} dot={false} isAnimationActive={false} />
          <Line data={pts(pointMutantRoc)} dataKey="y" stroke={RED} strokeWidth={3} dot={false} isAnimationActive={false} />
        </ComposedChart>
      </div>

      {/* B */}
      <div style={{ position: "absolute", left: 525, top: 0 }}>
        <ComposedChart width={525} height={475} margin={{ top: 27, right: 12, bottom: 65, left: 0 }}>
          <XAxis {...xAxisBase} domain={[0, 120]} ticks={distTicks} />
          <YAxis {...yAxisBase} domain={[0, 0.9]} ticks={corrTicksB} width={54} tickMargin={7} />
          <Scatter data={pts(withinFaded)} dataKey="y" shape={diamond(BLUE, 3.6, 0.22)} isAnimationActive={false} />
          <Scatter data={pts(betweenFaded)} dataKey="y" shape={diamond(RED, 3.6, 0.22)} isAnimationActive={false} />
          <Scatter data={pts(withinSubunit)} dataKey="y" shape={diamond(BLUE, 3.6)} isAnimationActive={false} />
          <Scatter data={pts(betweenSubunits)} dataKey="y" shape={diamond(RED, 3.6)} isAnimationActive={false} />
        </ComposedChart>
      </div>

      {/* C */}
      <div style={{ position: "absolute", left: 0, top: 475 }}>
        <ComposedChart width={525} height={480} margin={{ top: 52, right: 65, bottom: 33, left: 0 }}>
          <XAxis {...xAxisBase} domain={[-20, 15]} ticks={scoreTicks} />
          <YAxis {...yAxisBase} domain={[-3, 2]} ticks={exprTicks} width={68} tickMargin={7} />
          <Scatter data={pts(scoreOutliers)} dataKey="y" shape={diamond(NAVY, 3.3)} isAnimationActive={false} />
          {densityLevels.map((lv, i) => (
            <Area
              key={i}
              data={bands(lv.band)}
              dataKey="band"
              type="monotone"
              fill={lv.color}
              fillOpacity={1}
              stroke="none"
              dot={false}
              activeDot={false}
              isAnimationActive={false}
            />
          ))}
        </ComposedChart>
      </div>

      {/* D */}
      <div style={{ position: "absolute", left: 525, top: 475 }}>
        <ComposedChart width={525} height={480} margin={{ top: 46, right: 12, bottom: 33, left: 0 }}>
          <XAxis {...xAxisBase} domain={[-0.4, 1]} ticks={giCorrTicks} />
          <YAxis {...yAxisBase} domain={[-0.6, 1]} ticks={exCorrTicks} width={54} tickMargin={4} />
          <ReferenceLine x={0} stroke="#000" strokeWidth={1.5} />
          <ReferenceLine y={0} stroke="#000" strokeWidth={1.5} />
          <Scatter data={pts(corrPairs)} dataKey="y" shape={diamond(BLUE, 3.4)} isAnimationActive={false} />
        </ComposedChart>
      </div>

      <Overlay />
    </div>
  );
}
